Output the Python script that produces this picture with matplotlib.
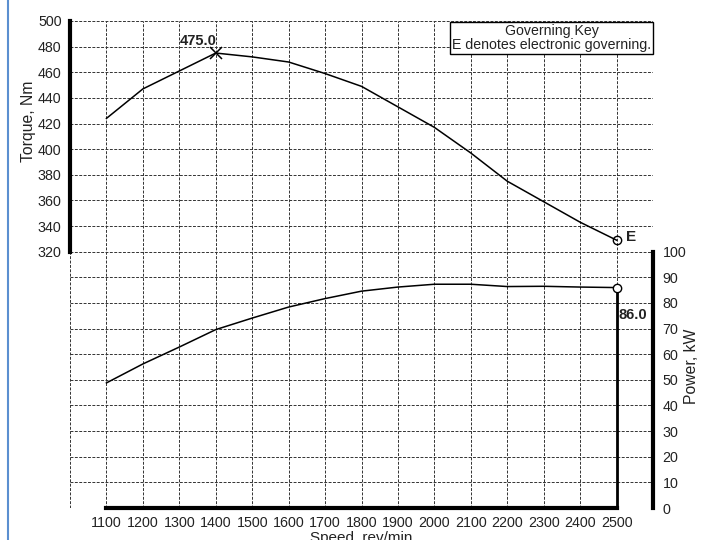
import matplotlib
matplotlib.use('Agg')
import matplotlib.pyplot as plt
from matplotlib.lines import Line2D

plt.rcParams['font.family'] = ['Liberation Sans', 'DejaVu Sans']

# Dane
predkosc = [1100, 1200, 1300, 1400, 1500, 1600, 1700, 1800,
            1900, 2000, 2100, 2200, 2300, 2400, 2500]
moment = [424, 447, 461, 475, 472, 468, 459, 449,
          433, 417, 397, 375, 359, 343, 329]
moc = [48.8, 56.2, 62.8, 69.6, 74.1, 78.4, 81.7, 84.6,
       86.2, 87.3, 87.3, 86.4, 86.5, 86.2, 86.0]

moment_max_n, moment_max = 1400, 475.0
moc_nom_n, moc_nom = 2500, 86.0

x_ticks = list(range(1000, 2700, 100))
x_labels = [str(v) if 1100 <= v <= 2500 else '' for v in x_ticks]
t_ticks = list(range(120, 520, 20))
t_labels = [str(v) if v >= 320 else '' for v in t_ticks]
p_ticks = list(range(0, 110, 10))

kolor_txt = '#222222'
kolor_siatki = '#333333'

fig = plt.figure(figsize=(7.02, 5.40), dpi=100)
ax = fig.add_axes([70 / 702, 1 - 508 / 540, 583 / 702, 487 / 540])
ax2 = ax.twinx()

ax.set_xlim(1000, 2600)
ax.set_ylim(120, 500)
ax2.set_ylim(0, 190)

# siatka
ax.set_xticks(x_ticks)
ax.set_xticklabels(x_labels)
ax.set_yticks(t_ticks)
ax.set_yticklabels(t_labels)
ax2.set_yticks(p_ticks)
ax.grid(True, color=kolor_siatki, linestyle=(0, (3, 1.5)), linewidth=0.7)
ax.tick_params(axis='both', length=0, labelsize=10.3, colors=kolor_txt)
ax.tick_params(axis='y', pad=6)
ax.tick_params(axis='x', pad=6)
ax2.tick_params(axis='y', length=0, labelsize=10.3, colors=kolor_txt, pad=7)

for s in ['top', 'right']:
    ax.spines[s].set_visible(False)
for s in ['top', 'left', 'bottom']:
    ax2.spines[s].set_visible(False)
ax.spines['left'].set_bounds(320, 500)
ax.spines['left'].set_linewidth(3)
ax.spines['bottom'].set_bounds(1100, 2500)
ax.spines['bottom'].set_linewidth(3)
ax2.spines['right'].set_bounds(0, 100)
ax2.spines['right'].set_linewidth(3)

# krzywe
ax.plot(predkosc, moment, color='black', linewidth=1.1, zorder=3)
ax2.plot(predkosc, moc, color='black', linewidth=1.1, zorder=3)

ax.plot(moment_max_n, moment_max, marker='x', markersize=8, color='black',
        markeredgewidth=1.1, zorder=4)
ax.annotate(f'{moment_max:.1f}', (moment_max_n, moment_max), xytext=(1, 5),
            textcoords='offset pixels', ha='right', va='bottom',
            fontsize=10.5, fontweight='bold', color=kolor_txt)

ax.plot(predkosc[-1], moment[-1], marker='o', markersize=6, markerfacecolor='none',
        markeredgecolor='black', markeredgewidth=1.0, zorder=4)
ax.annotate('E', (predkosc[-1], moment[-1]), xytext=(9, 3),
            textcoords='offset pixels', ha='left', va='center',
            fontsize=11, fontweight='bold', color=kolor_txt)

ax2.plot([moc_nom_n, moc_nom_n], [0, moc_nom], color='black', linewidth=2, zorder=3)
ax2.plot(moc_nom_n, moc_nom, marker='o', markersize=6, markerfacecolor='white',
         markeredgecolor='black', markeredgewidth=1.0, zorder=4)
ax2.annotate(f'{moc_nom:.1f}', (moc_nom_n, moc_nom), xytext=(2, -20),
             textcoords='offset pixels', ha='left', va='top',
             fontsize=10.5, fontweight='bold', color=kolor_txt)

# legenda
ax.text(1 - 0.003, 1 - 0.006, 'Governing Key\nE denotes electronic governing.',
        transform=ax.transAxes, ha='right', va='top', multialignment='center',
        fontsize=10.2, linespacing=1.0, color=kolor_txt, zorder=5,
        bbox=dict(boxstyle='square,pad=0.15', facecolor='white',
                  edgecolor='black', linewidth=1.0))

# opisy osi
fig.text(29 / 702, 1 - 121 / 540, 'Torque, Nm', rotation=90, ha='center',
         va='center', fontsize=11.3, color=kolor_txt)
fig.text(691 / 702, 1 - 366 / 540, 'Power, kW', rotation=90, ha='center',
         va='center', fontsize=11.3, color=kolor_txt)
fig.text(361 / 702, 1 - 531 / 540, 'Speed, rev/min', ha='center', va='top',
         fontsize=11, color=kolor_txt)

fig.add_artist(Line2D([7.5 / 702, 7.5 / 702], [0, 1], transform=fig.transFigure,
                      color='#5b8fd0', linewidth=1.5))

fig.savefig('out.png', dpi=100)
